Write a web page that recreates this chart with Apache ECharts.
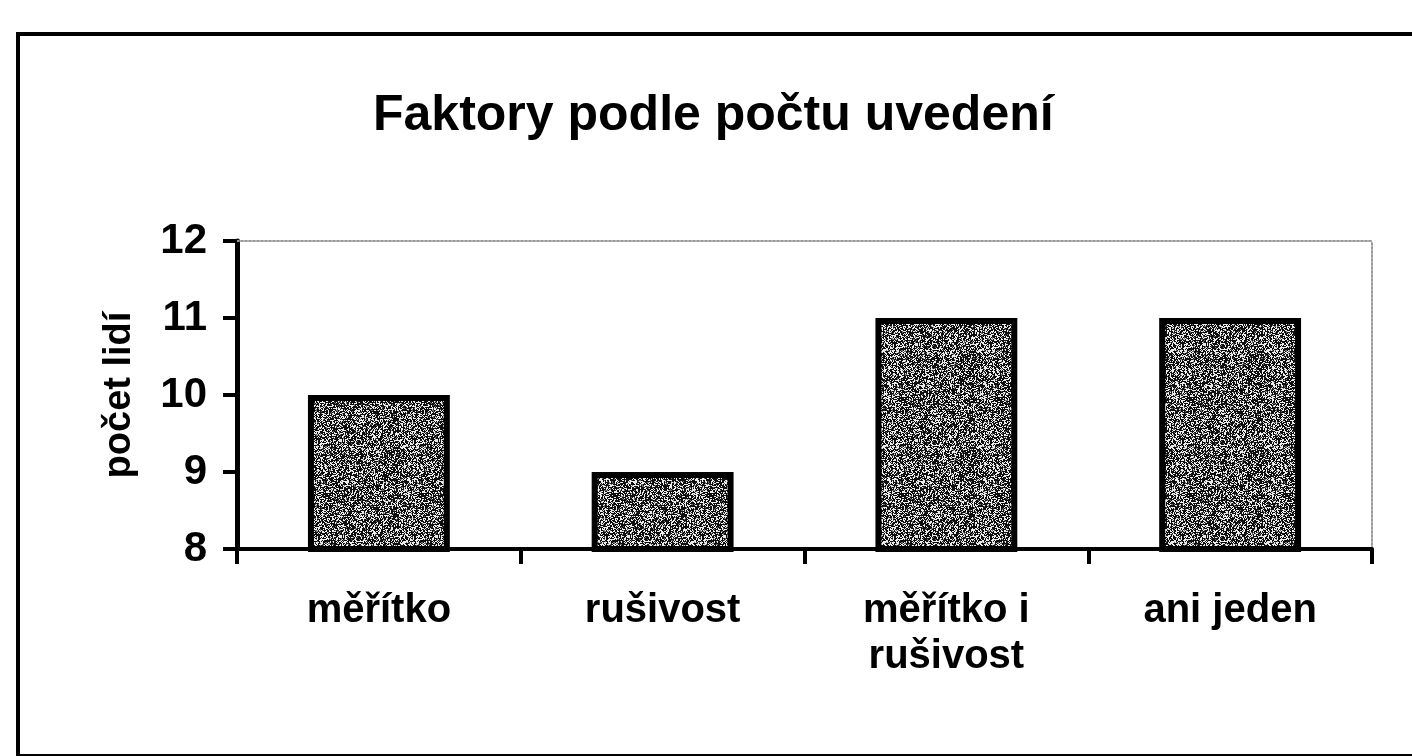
<!DOCTYPE html>
<html>
<head>
<meta charset="utf-8">
<script src="https://cdn.jsdelivr.net/npm/echarts@6/dist/echarts.min.js"></script>
<style>
html,body{margin:0;padding:0;background:#fff;}
#chart{width:1412px;height:756px;}
</style>
</head>
<body>
<div id="chart"></div>
<script>
const titleText = 'Faktory podle počtu uvedení';
const yAxisName = 'počet lidí';
const categories = ['měřítko', 'rušivost', 'měřítko i\nrušivost', 'ani jeden'];
const counts = [10, 9, 11, 11];
const yMin = 8, yMax = 12, yStep = 1;

function makeTexture() {
  const n = 96;
  const c = document.createElement('canvas');
  c.width = n; c.height = n;
  const ctx = c.getContext('2d');
  const img = ctx.createImageData(n, n);
  let s = 987654321;
  for (let i = 0; i < n * n; i++) {
    s = (s * 1103515245 + 12345) & 0x7fffffff;
    const v = s / 0x7fffffff;
    const g = v < 0.34 ? 235 : (v < 0.42 ? 110 : 15);
    img.data[i*4] = g; img.data[i*4+1] = g; img.data[i*4+2] = g; img.data[i*4+3] = 255;
  }
  ctx.putImageData(img, 0, 0);
  return c;
}

const FONT = '"Liberation Sans", Arial, sans-serif';
const chart = echarts.init(document.getElementById('chart'), null, {renderer: 'canvas'});
chart.setOption({
  backgroundColor: '#fff',
  animation: false,
  title: {
    text: titleText,
    left: 373, top: 91, padding: 0,
    textStyle: {fontFamily: FONT, fontWeight: 'bold', fontSize: 50, color: '#000'}
  },
  graphic: [{
    type: 'rect', left: 16, top: 32, z: 0,
    shape: {width: 1420, height: 722},
    style: {fill: 'transparent', stroke: '#000', lineWidth: 4}
  }],
  grid: {left: 237, right: 40, top: 241, bottom: 207},
  xAxis: [{
    type: 'category',
    data: categories,
    axisLine: {show: true, lineStyle: {color: '#000', width: 4}},
    axisTick: {show: true, length: 15, lineStyle: {color: '#000', width: 4}},
    axisLabel: {
      fontFamily: FONT, fontWeight: 'bold', fontSize: 40, color: '#000',
      margin: 39, lineHeight: 46, interval: 0
    }
  }, {
    type: 'category', position: 'top', data: categories,
    axisLine: {show: true, lineStyle: {color: '#999', width: 2, type: 'dotted'}},
    axisTick: {show: false}, axisLabel: {show: false}
  }],
  yAxis: [{
    type: 'value', min: yMin, max: yMax, interval: yStep,
    name: yAxisName, nameLocation: 'middle', nameGap: 98, nameRotate: 90,
    nameTextStyle: {fontFamily: FONT, fontWeight: 'bold', fontSize: 38, color: '#000'},
    axisLine: {show: true, lineStyle: {color: '#000', width: 5}},
    axisTick: {show: true, length: 14, lineStyle: {color: '#000', width: 4}},
    axisLabel: {fontFamily: FONT, fontWeight: 'bold', fontSize: 42, color: '#000', margin: 30},
    splitLine: {show: false}
  }, {
    type: 'value', min: yMin, max: yMax, interval: yStep, position: 'right',
    axisLine: {show: true, lineStyle: {color: '#999', width: 2, type: 'dotted'}},
    axisTick: {show: false}, axisLabel: {show: false}, splitLine: {show: false}
  }],
  series: [{
    type: 'bar',
    data: counts,
    barWidth: '50%',
    itemStyle: {
      color: {image: makeTexture(), repeat: 'repeat'},
      borderColor: '#000', borderWidth: 6
    }
  }]
});
</script>
</body>
</html>
